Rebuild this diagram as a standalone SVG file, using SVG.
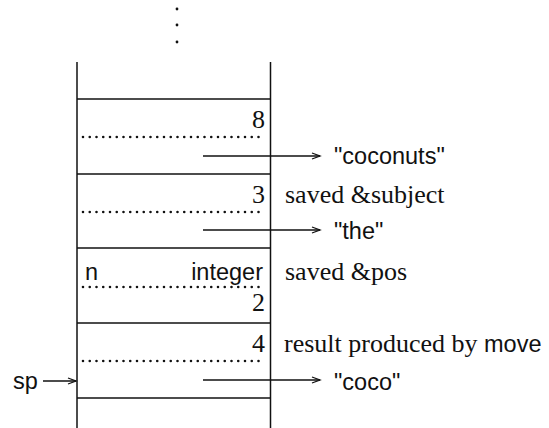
<svg xmlns="http://www.w3.org/2000/svg" width="549" height="428" viewBox="0 0 549 428">
<style>
.ln{stroke:#111;stroke-width:1.5;fill:none}
.dot{stroke:#111;stroke-width:2.6;stroke-linecap:round;stroke-dasharray:0 6.75;fill:none}
.serif{font-family:"Liberation Serif","Times New Roman",serif;font-size:26px;fill:#111}
.sans{font-family:"Liberation Sans",Arial,sans-serif;font-size:23.5px;fill:#111}
.num{text-anchor:end}
</style>
<defs>
<marker id="ah" markerWidth="12" markerHeight="10" refX="9" refY="4" orient="auto" markerUnits="userSpaceOnUse">
<path d="M1,1 L9,4 L1,7" fill="none" stroke="#111" stroke-width="1.3"/>
</marker>
</defs>
<rect width="549" height="428" fill="#fff"/>
<g id="ellipsis" fill="#111">
<circle cx="177" cy="9" r="1.4"/>
<circle cx="177" cy="25" r="1.4"/>
<circle cx="177" cy="42" r="1.4"/>
</g>
<g id="stack">
<line class="ln" x1="77" y1="62" x2="77" y2="428"/>
<line class="ln" x1="270.5" y1="62" x2="270.5" y2="428"/>
</g>
<g id="cell-top">
<line class="ln" x1="77" y1="99" x2="270.5" y2="99"/>
</g>
<g id="cell-coconuts">
<text class="serif num" x="265" y="128">8</text>
<line class="dot" x1="83" y1="137" x2="265" y2="137"/>
<line class="ln" x1="77" y1="174" x2="270.5" y2="174"/>
<text class="sans" x="334" y="164">"coconuts"</text>
</g>
<g id="cell-subject">
<text class="serif num" x="265" y="203">3</text>
<text class="serif" x="285" y="203">saved &amp;subject</text>
<line class="dot" x1="83" y1="212" x2="265" y2="212"/>
<line class="ln" x1="77" y1="248" x2="270.5" y2="248"/>
<text class="sans" x="334" y="239">"the"</text>
</g>
<g id="cell-pos">
<text class="sans" x="85" y="280">n</text>
<text class="sans num" x="263" y="280">integer</text>
<text class="serif" x="285" y="280">saved &amp;pos</text>
<line class="dot" x1="83" y1="287" x2="265" y2="287"/>
<text class="serif num" x="265" y="311">2</text>
<line class="ln" x1="77" y1="323" x2="270.5" y2="323"/>
</g>
<g id="cell-result">
<text class="serif num" x="265" y="352">4</text>
<text class="serif" x="284" y="352">result produced by <tspan class="sans">move</tspan></text>
<line class="dot" x1="83" y1="361" x2="265" y2="361"/>
<line class="ln" x1="77" y1="398" x2="270.5" y2="398"/>
<text class="sans" x="334" y="390">"coco"</text>
</g>
<g id="sp">
<text class="sans" x="13" y="389">sp</text>
</g>
<g id="connectors">
<line class="ln" x1="203" y1="156" x2="320" y2="156" marker-end="url(#ah)"/>
<line class="ln" x1="203" y1="230" x2="320" y2="230" marker-end="url(#ah)"/>
<line class="ln" x1="203" y1="380" x2="320" y2="380" marker-end="url(#ah)"/>
<line class="ln" x1="43" y1="381" x2="76" y2="381" marker-end="url(#ah)"/>
</g>
</svg>
